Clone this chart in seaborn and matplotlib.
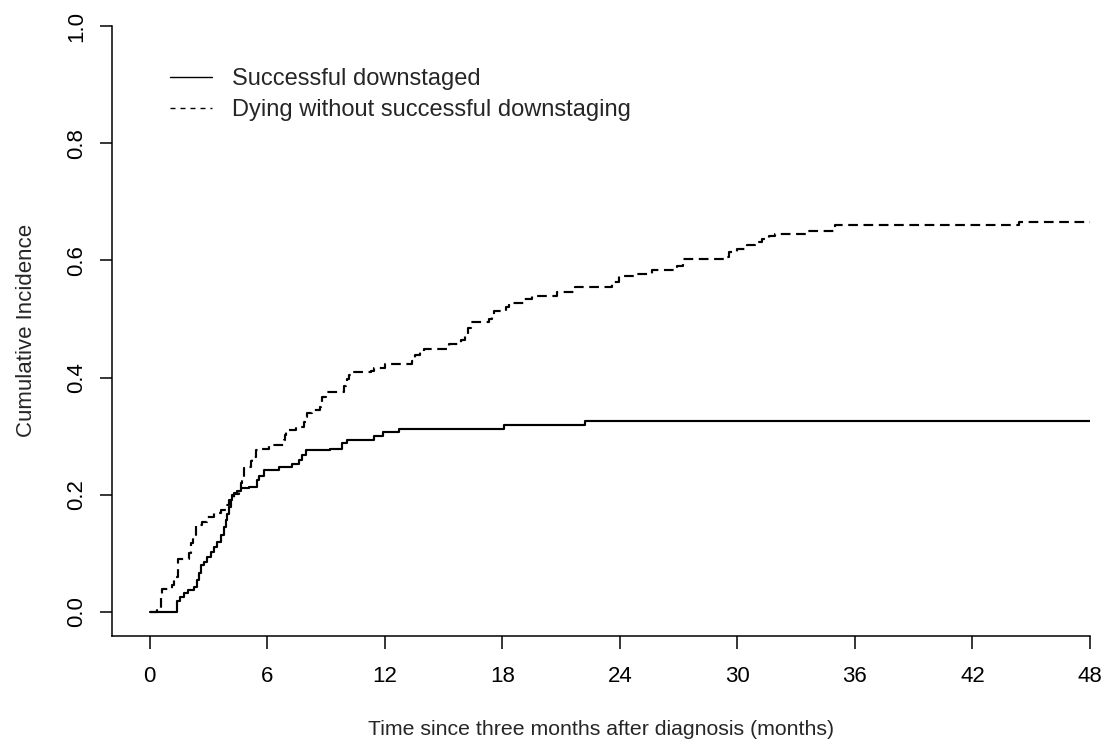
import matplotlib
matplotlib.use("Agg")
import matplotlib.pyplot as plt
from matplotlib.lines import Line2D
import seaborn as sns
import pandas as pd

series_names = ["Successful downstaged", "Dying without successful downstaging"]

down_t = [0, 1.38, 1.56, 1.74, 1.98, 2.24, 2.43, 2.52, 2.60, 2.77, 2.94, 3.11, 3.28, 3.45,
          3.62, 3.79, 3.88, 3.96, 4.05, 4.13, 4.22, 4.30, 4.47, 4.64, 5.07, 5.49, 5.58, 5.83,
          6.60, 7.28, 7.62, 7.79, 7.96, 9.23, 9.83, 10.09, 11.44, 11.92, 12.72, 18.11, 22.24, 48]
down_v = [0, 0.019, 0.026, 0.032, 0.037, 0.043, 0.055, 0.066, 0.080, 0.086, 0.094, 0.103,
          0.111, 0.120, 0.131, 0.145, 0.157, 0.168, 0.180, 0.191, 0.199, 0.203, 0.206, 0.211,
          0.214, 0.225, 0.233, 0.242, 0.248, 0.253, 0.259, 0.268, 0.276, 0.279, 0.288, 0.293,
          0.300, 0.307, 0.313, 0.319, 0.326, 0.326]

death_t = [0, 0.38, 0.56, 0.65, 1.16, 1.24, 1.45, 2.02, 2.09, 2.20, 2.35, 2.69, 2.94, 3.28,
           3.62, 3.88, 4.05, 4.30, 4.56, 4.65, 4.73, 4.81, 5.07, 5.15, 5.24, 5.41, 5.75, 6.09,
           6.85, 6.90, 6.94, 7.45, 7.87, 7.96, 8.05, 8.30, 8.72, 8.77, 8.81, 8.98, 9.91, 10.00,
           10.09, 10.20, 10.34, 11.28, 11.44, 12.04, 13.40, 13.50, 13.57, 13.80, 14.00, 15.27,
           15.87, 16.12, 16.25, 16.38, 17.30, 17.47, 17.57, 18.20, 18.34, 19.10, 19.52, 20.80,
           21.73, 23.60, 23.95, 24.90, 25.65, 26.90, 27.20, 29.30, 29.56, 29.98, 30.50, 30.90,
           31.26, 31.60, 31.94, 33.56, 35.00, 44.40, 48]
death_v = [0, 0.006, 0.026, 0.040, 0.046, 0.060, 0.090, 0.100, 0.117, 0.130, 0.148, 0.154,
           0.162, 0.169, 0.174, 0.183, 0.191, 0.202, 0.211, 0.220, 0.231, 0.245, 0.248, 0.257,
           0.265, 0.276, 0.279, 0.285, 0.293, 0.302, 0.310, 0.316, 0.324, 0.332, 0.339, 0.344,
           0.350, 0.358, 0.367, 0.376, 0.385, 0.392, 0.398, 0.404, 0.410, 0.412, 0.416, 0.424,
           0.428, 0.433, 0.438, 0.444, 0.449, 0.458, 0.465, 0.475, 0.485, 0.495, 0.500, 0.507,
           0.514, 0.520, 0.528, 0.535, 0.540, 0.546, 0.555, 0.563, 0.573, 0.577, 0.583, 0.591,
           0.603, 0.606, 0.614, 0.620, 0.626, 0.631, 0.637, 0.641, 0.645, 0.651, 0.660, 0.666,
           0.666]

x_ticks = [0, 6, 12, 18, 24, 30, 36, 42, 48]
y_ticks = [0.0, 0.2, 0.4, 0.6, 0.8, 1.0]
x_label = "Time since three months after diagnosis (months)"
y_label = "Cumulative Incidence"

df = pd.concat([
    pd.DataFrame({"t": down_t, "v": down_v, "series": series_names[0]}),
    pd.DataFrame({"t": death_t, "v": death_v, "series": series_names[1]}),
], ignore_index=True)

sns.set_style("white")
plt.rcParams["font.family"] = ["Liberation Sans", "DejaVu Sans"]

fig = plt.figure(figsize=(11.05, 7.39), dpi=100)
ax = fig.add_axes([112 / 1105, 1 - 635.5 / 739, (1090 - 112) / 1105, (635.5 - 26) / 739])

sns.lineplot(data=df, x="t", y="v", style="series", style_order=series_names,
             dashes={series_names[0]: "", series_names[1]: (4.5, 2.6)},
             color="black", linewidth=1.55, drawstyle="steps-post",
             estimator=None, sort=False, legend=False, ax=ax)

ax.set_xlim(-1.92, 48)
ax.set_ylim(-0.04, 1.0)
ax.set_xticks(x_ticks)
ax.set_xticklabels([str(t) for t in x_ticks])
ax.set_yticks(y_ticks)
ax.set_yticklabels([f"{t:.1f}" for t in y_ticks], rotation=90, va="center")

for s in ["top", "right"]:
    ax.spines[s].set_visible(False)
for s in ["left", "bottom"]:
    ax.spines[s].set_color("black")
    ax.spines[s].set_linewidth(1.1)

ax.tick_params(axis="both", direction="out", length=9, width=1.1, color="black",
               labelsize=16, labelcolor="black", left=True, bottom=True)
ax.tick_params(axis="x", pad=13)
ax.tick_params(axis="y", pad=9)

ax.set_xlabel(x_label, fontsize=15.3, labelpad=24)
ax.set_ylabel(y_label, fontsize=16, labelpad=21)

handles = [
    Line2D([], [], color="black", linewidth=1.0),
    Line2D([], [], color="black", linewidth=1.0, dashes=(3.6, 3.6)),
]
ax.legend(handles, series_names, loc="upper left", frameon=False, fontsize=17,
          handlelength=1.78, handletextpad=0.85, labelspacing=0.4,
          bbox_to_anchor=((170 - 112) / (1090 - 112) - 0.0005, 1 - (68 - 26) / (635.5 - 26)),
          borderaxespad=0.0, borderpad=0.0)

fig.savefig("out.png", dpi=100)
